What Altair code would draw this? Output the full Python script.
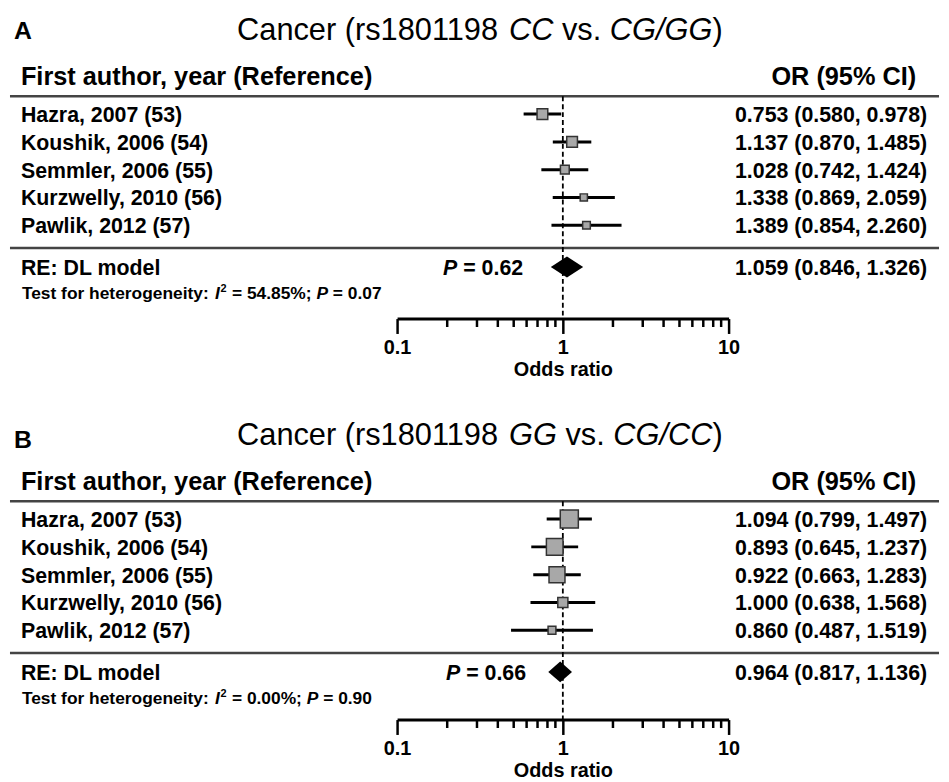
import altair as alt
import pandas as pd

# ---------------- data ----------------
authors = ["Hazra, 2007 (53)", "Koushik, 2006 (54)", "Semmler, 2006 (55)",
           "Kurzwelly, 2010 (56)", "Pawlik, 2012 (57)"]

# Panel A: CC vs. CG/GG
or_a = [0.753, 1.137, 1.028, 1.338, 1.389]
lo_a = [0.580, 0.870, 0.742, 0.869, 0.854]
hi_a = [0.978, 1.485, 1.424, 2.059, 2.260]
wt_a = [27.5, 27.5, 18.5, 12.5, 14.0]          # relative weights (box areas)
pooled_a = [1.059, 0.846, 1.326]
p_re_a = "0.62"
i2_a = "54.85%"
p_het_a = "0.07"

# Panel B: GG vs. CG/CC
or_b = [1.094, 0.893, 0.922, 1.000, 0.860]
lo_b = [0.799, 0.645, 0.663, 0.638, 0.487]
hi_b = [1.497, 1.237, 1.283, 1.568, 1.519]
wt_b = [32.0, 27.0, 25.0, 10.0, 6.0]
pooled_b = [0.964, 0.817, 1.136]
p_re_b = "0.66"
i2_b = "0.00%"
p_het_b = "0.90"

ticks = [0.1, 0.2, 0.3, 0.4, 0.5, 0.6, 0.7, 0.8, 0.9,
         1, 2, 3, 4, 5, 6, 7, 8, 9, 10]

# ---------------- helpers ----------------
FONT = "Liberation Sans"
ONE = pd.DataFrame({"k": [0]})

REG_W = {"C": 722, "a": 556, "n": 556, "c": 500, "e": 556, "r": 333, " ": 278,
         "(": 333, ")": 333, "s": 500, "v": 500, ".": 278, "G": 778, "/": 278}
BOLD_W = {"T": 611, "e": 556, "s": 556, "t": 333, "f": 333, "o": 611, "r": 389,
          "h": 611, "g": 611, "n": 611, "i": 278, "y": 556, ":": 333, " ": 278,
          "I": 278, "=": 584, ".": 278, "%": 889, ";": 333, "P": 667}


def tw(s, size, bold):
    tbl = BOLD_W if bold else REG_W
    return sum(tbl.get(ch, 556) for ch in s) * size / 1000.0


def txt(s, x, y, size, weight="bold", style="normal", align="left"):
    return alt.Chart(ONE).mark_text(
        text=s, font=FONT, fontSize=size, fontWeight=weight, fontStyle=style,
        align=align, baseline="alphabetic", color="black"
    ).encode(x=alt.value(x), y=alt.value(y))


def hline(y, x1, x2):
    return alt.Chart(ONE).mark_rule(color="#444444", strokeWidth=2.5).encode(
        x=alt.value(x1), x2=alt.value(x2), y=alt.value(y))


def run(pieces, x, y, size, weight, bold_metrics):
    """Lay out a run of styled pieces; (text, style, space_after)."""
    out = []
    for s, st, gap in pieces:
        out.append(txt(s, x, y, size, weight=weight, style=st))
        x += tw(s, size, bold_metrics) + (tw(" ", size, bold_metrics) if gap else 0)
    return out


MAJ = "datum.value == 0.1 || datum.value == 1 || datum.value == 10"
W = 936
ROW0, ROWH = 76, 28
RE_ROW = 6.5
FS_ROW = 21.5
FS_HET = 17.5


def panel(letter, letter_y, g1, g2, est, lo, hi, wt, wmax, amax, pooled,
          p_re, i2, p_het, height, p_right):
    studies = pd.DataFrame({
        "label": authors, "row": [1, 2, 3, 4, 5], "est": est, "lo": lo, "hi": hi,
        "w": wt,
        "txt": [f"{e:.3f} ({l:.3f}, {h:.3f})" for e, l, h in zip(est, lo, hi)],
    })
    xscale = alt.Scale(type="log", domain=[0.1, 10], range=[390, 724], nice=False)
    yscale = alt.Scale(domain=[-ROW0 / ROWH, (height - ROW0) / ROWH],
                       reverse=True, nice=False, zero=False)
    xaxis = alt.Axis(
        values=ticks, format="~g", labelExpr=f"({MAJ}) ? datum.label : ''",
        labelOverlap=False, labelFlush=False, labelBound=False, grid=False,
        domainColor="black", domainWidth=3, tickColor="black", tickWidth=2.5,
        tickSize={"condition": {"test": MAJ, "value": 15}, "value": 8},
        labelFont=FONT, labelFontSize=20, labelFontWeight="bold",
        labelColor="black", labelPadding=4,
        title="Odds ratio", titleFont=FONT, titleFontSize=20,
        titleFontWeight="bold", titleColor="black", titlePadding=2,
    )
    X = lambda f: alt.X(f, scale=xscale, axis=xaxis)
    Y = lambda f: alt.Y(f, scale=yscale, axis=None)
    base = alt.Chart(studies)

    ref = alt.Chart(pd.DataFrame({"ref": [1.0]})).mark_rule(
        color="black", strokeWidth=1.8, strokeDash=[5, 3]
    ).encode(x=X("ref:Q"), y=alt.value(86), y2=alt.value(height))

    ci = base.mark_rule(color="black", strokeWidth=3).encode(
        x=X("lo:Q"), x2="hi:Q", y=Y("row:Q"))

    sq = base.mark_square(fill="#a8a8a8", stroke="#333333", strokeWidth=1.5,
                          opacity=1).encode(
        x=X("est:Q"), y=Y("row:Q"),
        size=alt.Size("w:Q", scale=alt.Scale(domain=[0, wmax], range=[0, amax]),
                      legend=None))

    pe, pl, ph = pooled
    dia = pd.DataFrame({"x": [pl, pe, ph],
                        "y1": [RE_ROW, RE_ROW - 0.375, RE_ROW],
                        "y2": [RE_ROW, RE_ROW + 0.375, RE_ROW]})
    dmd = alt.Chart(dia).mark_area(color="black", opacity=1).encode(
        x=X("x:Q"), y=Y("y1:Q"), y2="y2:Q")

    lab = base.mark_text(align="left", baseline="alphabetic", dy=8, font=FONT,
                         fontSize=FS_ROW, fontWeight="bold", color="black").encode(
        x=alt.value(11), y=Y("row:Q"), text="label:N")
    val = base.mark_text(align="right", baseline="alphabetic", dy=8, font=FONT,
                         fontSize=FS_ROW, fontWeight="bold", color="black").encode(
        x=alt.value(924), y=Y("row:Q"), text="txt:N")

    layers = [hline(86, 0, W), hline(239, 0, W), ref, ci, sq, dmd, lab, val]

    # panel letter and title
    layers.append(txt(letter, 4, letter_y, 25))
    layers += run([("Cancer (rs1801198", "normal", True), (g1, "italic", True),
                   ("vs.", "normal", True), (g2, "italic", False),
                   (")", "normal", False)], 228.8, 29, 31, "normal", False)

    # header
    layers.append(txt("First author, year (Reference)", 11, 75, 25.5))
    layers.append(txt("OR (95% CI)", 913, 75, 25.5, align="right"))

    # pooled row
    re_y = ROW0 + ROWH * RE_ROW + 8.5
    layers.append(txt("RE: DL model", 11, re_y, FS_ROW))
    rest = "= " + p_re
    layers.append(txt(rest, p_right, re_y, FS_ROW, align="right"))
    layers.append(txt("P", p_right - tw(" " + rest, FS_ROW, True), re_y, FS_ROW,
                      style="italic", align="right"))
    layers.append(txt(f"{pe:.3f} ({pl:.3f}, {ph:.3f})", 924, re_y, FS_ROW,
                      align="right"))

    # heterogeneity line
    hy = 290
    x = 12
    s1 = "Test for heterogeneity:"
    layers.append(txt(s1, x, hy, FS_HET))
    x += tw(s1 + " ", FS_HET, True)
    layers.append(txt("I", x, hy, FS_HET, style="italic"))
    x += tw("I", FS_HET, True) + 0.8
    layers.append(txt("2", x, hy - 7, 11))
    x += 6.1 + 0.5 + tw(" ", FS_HET, True)
    s3 = "= " + i2 + ";"
    layers.append(txt(s3, x, hy, FS_HET))
    x += tw(s3 + " ", FS_HET, True)
    layers.append(txt("P", x, hy, FS_HET, style="italic"))
    x += tw("P ", FS_HET, True)
    layers.append(txt("= " + p_het, x, hy, FS_HET))

    return alt.layer(*layers).properties(width=W, height=height)


pa = panel("A", 28, "CC", "CG/GG", or_a, lo_a, hi_a, wt_a, 27.5, 116.6,
           pooled_a, p_re_a, i2_a, p_het_a, 310, 517)
pb = panel("B", 32, "GG", "CG/CC", or_b, lo_b, hi_b, wt_b, 32.0, 331.0,
           pooled_b, p_re_b, i2_b, p_het_b, 306, 520)

chart = alt.vconcat(pa, pb, spacing=98, bounds="flush").resolve_scale(
    size="independent", x="independent", y="independent"
).properties(padding=0).configure_view(strokeWidth=0)

chart.save("out.html", embed_options={"renderer": "svg", "actions": False})
